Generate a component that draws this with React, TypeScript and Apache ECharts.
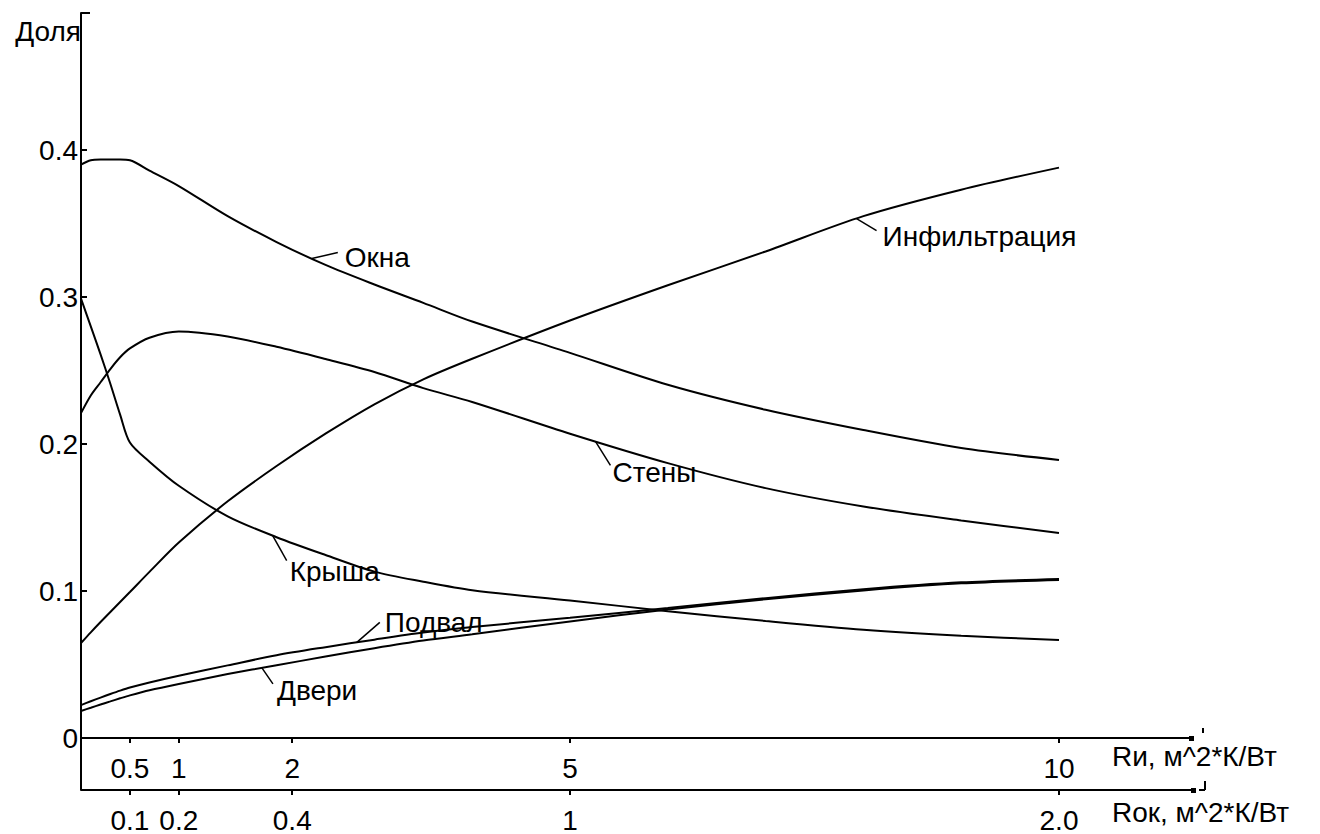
import React, { useEffect, useRef } from "react";
import * as echarts from "echarts";

// Ri, м^2*К/Вт (x values at which curves were read)
const xs = [0, 0.1, 0.2, 0.3, 0.4, 0.5, 0.7, 1, 1.5, 2, 2.5, 3, 3.5, 4, 5, 6, 7, 8, 9, 10];

const okna = [0.390, 0.393, 0.3935, 0.3935, 0.3935, 0.393, 0.386, 0.3755, 0.355, 0.3374, 0.3218, 0.3085, 0.296, 0.2833, 0.262, 0.2403, 0.2233, 0.2095, 0.1973, 0.1891];
const steny = [0.221, 0.233, 0.242, 0.251, 0.259, 0.265, 0.2723, 0.2765, 0.2731, 0.2661, 0.2578, 0.249, 0.238, 0.2286, 0.207, 0.187, 0.170, 0.1575, 0.148, 0.1395];
const krysha = [0.299, 0.280, 0.261, 0.241, 0.220, 0.201, 0.188, 0.1716, 0.1508, 0.1366, 0.1245, 0.1132, 0.1063, 0.1005, 0.0935, 0.0863, 0.0796, 0.0736, 0.0695, 0.0667];
const infiltr = [0.0646, 0.0719, 0.0789, 0.0857, 0.0925, 0.0993, 0.113, 0.133, 0.161, 0.185, 0.207, 0.227, 0.244, 0.258, 0.284, 0.308, 0.331, 0.355, 0.373, 0.388];
const podval = [0.0224, 0.025, 0.0275, 0.0299, 0.0322, 0.0343, 0.0378, 0.0424, 0.0494, 0.0563, 0.0618, 0.0669, 0.0717, 0.0755, 0.0818, 0.0884, 0.0951, 0.1012, 0.1059, 0.1082];
const dveri = [0.0184, 0.0206, 0.0228, 0.0249, 0.027, 0.029, 0.0325, 0.0368, 0.0435, 0.0495, 0.0554, 0.0611, 0.0663, 0.0705, 0.0793, 0.0874, 0.0944, 0.1004, 0.1052, 0.1075];

// tick labels
const riTickAt = [0.5, 1, 2.16, 5, 10];
const riLabels = ["0.5", "1", "2", "5", "10"];
const rokLabels = ["0.1", "0.2", "0.4", "1", "2.0"];
const yLabelValues = [0, 0.1, 0.2, 0.3, 0.4];
const yTickValues = [0.1, 0.2, 0.3, 0.4];

const seriesNames = ["Окна", "Стены", "Крыша", "Инфильтрация", "Подвал", "Двери"];
const seriesValues = [okna, steny, krysha, infiltr, podval, dveri];
// x position (Ri) where each curve's caption leader starts
const captionAt = [2.36, 5.26, 1.96, 7.93, 2.82, 1.85];

// layout of caption leaders (pixels)
const captionLayout = [
  { leader: [26, -6], text: [33, -1] },
  { leader: [15, 24], text: [17, 31] },
  { leader: [14, 25], text: [17, 36] },
  { leader: [20, 12], text: [26, 18] },
  { leader: [23, -20], text: [28, -20] },
  { leader: [11, 16], text: [15, 23] },
];

const FONT = "'Liberation Sans', Arial, sans-serif";
const FS = 28;
const INK = "#000";

function interp(x: number[], y: number[], v: number) {
  for (let i = 0; i < x.length - 1; i++) {
    if (v >= x[i] && v <= x[i + 1]) {
      const t = (v - x[i]) / (x[i + 1] - x[i]);
      return y[i] + t * (y[i + 1] - y[i]);
    }
  }
  return y[y.length - 1];
}

export default function App() {
  const ref = useRef<HTMLDivElement>(null);
  useEffect(() => {
    const chart = echarts.init(ref.current!, null, { renderer: "svg" });
    const X_MAX = 11.36;
    const Y_MAX = 0.4932;
    const fmt = (arr: string[]) => (v: number) => {
      const i = riTickAt.findIndex((t) => Math.abs(t - v) < 1e-6);
      return i >= 0 ? arr[i] : "";
    };
    const xBase = (labels: string[], name: string, offset: number, namePad: number) => ({
      type: "value",
      gridIndex: 0,
      min: 0,
      max: X_MAX,
      position: "bottom",
      offset,
      name,
      nameLocation: "end",
      nameGap: -80,
      nameMoveOverlap: false,
      nameTextStyle: {
        color: INK,
        fontSize: FS,
        fontFamily: FONT,
        align: "left",
        verticalAlign: "top",
        padding: [namePad, 0, 0, 0],
      },
      axisLine: { show: true, onZero: false, lineStyle: { color: INK, width: 2 } },
      axisTick: { show: true, customValues: riTickAt, length: 5, lineStyle: { color: INK, width: 2 } },
      axisLabel: {
        show: true,
        customValues: riTickAt,
        formatter: fmt(labels),
        margin: 16,
        color: INK,
        fontSize: FS,
        fontFamily: FONT,
      },
      splitLine: { show: false },
    });
    chart.setOption({
      animation: false,
      backgroundColor: "#fff",
      textStyle: { fontFamily: FONT },
      grid: { left: 81, top: 13, width: 1111, height: 725, outerBoundsMode: "none", containLabel: false },
      xAxis: [
        xBase(riLabels, "Rи, м^2*К/Вт", 0, 4),
        xBase(rokLabels, "Rок, м^2*К/Вт", 52, 8),
      ],
      yAxis: {
        type: "value",
        min: 0,
        max: Y_MAX,
        name: "Доля",
        nameLocation: "end",
        nameGap: -4,
        nameTextStyle: {
          color: INK,
          fontSize: FS,
          fontFamily: FONT,
          align: "right",
          verticalAlign: "top",
        },
        axisLine: { show: true, lineStyle: { color: INK, width: 2 } },
        axisTick: { show: true, inside: true, length: 6, customValues: yTickValues, lineStyle: { color: INK, width: 2 } },
        axisLabel: {
          customValues: yLabelValues,
          formatter: (v: number) => (v === 0 ? "0" : String(Math.round(v * 10) / 10)),
          margin: 3,
          color: INK,
          fontSize: FS,
          fontFamily: FONT,
          verticalAlign: "middle",
          padding: [16, 0, 0, 0],
        },
        splitLine: { show: false },
      },
      series: seriesNames.map((n, k) => ({
        name: n,
        type: "line",
        xAxisIndex: 0,
        yAxisIndex: 0,
        data: xs.map((x, i) => [x, seriesValues[k][i]]),
        showSymbol: false,
        smooth: 0.3,
        silent: true,
        lineStyle: { color: INK, width: 2 },
      })),
    });

    const graphics: any[] = [];
    seriesNames.forEach((n, k) => {
      const ax = captionAt[k];
      const ay = interp(xs, seriesValues[k], ax);
      const p = chart.convertToPixel({ xAxisIndex: 0, yAxisIndex: 0 }, [ax, ay]) as number[];
      const L = captionLayout[k];
      graphics.push({
        type: "line",
        shape: { x1: p[0], y1: p[1], x2: p[0] + L.leader[0], y2: p[1] + L.leader[1] },
        style: { stroke: INK, lineWidth: 1.5 },
        silent: true,
      });
      graphics.push({
        type: "text",
        x: p[0] + L.text[0],
        y: p[1] + L.text[1],
        style: { text: n, fill: INK, font: `${FS}px ${FONT}`, textAlign: "left", textVerticalAlign: "middle" },
        silent: true,
      });
    });
    // small axis decorations
    const o = chart.convertToPixel({ xAxisIndex: 0, yAxisIndex: 0 }, [0, 0]) as number[];
    const e = chart.convertToPixel({ xAxisIndex: 0, yAxisIndex: 0 }, [X_MAX, Y_MAX]) as number[];
    const seg = (x1: number, y1: number, x2: number, y2: number) => ({
      type: "line",
      shape: { x1, y1, x2, y2 },
      style: { stroke: INK, lineWidth: 2 },
      silent: true,
    });
    graphics.push(seg(o[0], e[1], o[0] + 9, e[1]));
    graphics.push(seg(o[0], o[1], o[0], o[1] + 52));
    graphics.push({ type: "rect", shape: { x: e[0] - 3, y: o[1] - 2, width: 5, height: 5 }, style: { fill: INK }, silent: true });
    graphics.push({ type: "rect", shape: { x: e[0] - 1, y: o[1] + 50, width: 5, height: 5 }, style: { fill: INK }, silent: true });
    graphics.push(seg(e[0] + 11, o[1] - 10, e[0] + 11, o[1] - 5));
    graphics.push(seg(e[0] + 13, o[1] + 43, e[0] + 13, o[1] + 52));
    graphics.push(seg(e[0] + 7, o[1] + 52, e[0] + 13, o[1] + 52));
    chart.setOption({ graphic: graphics });

    return () => chart.dispose();
  }, []);
  return (
    <div
      ref={ref}
      style={{ position: "fixed", left: 0, top: 0, width: 1320, height: 834, background: "#fff" }}
    />
  );
}
